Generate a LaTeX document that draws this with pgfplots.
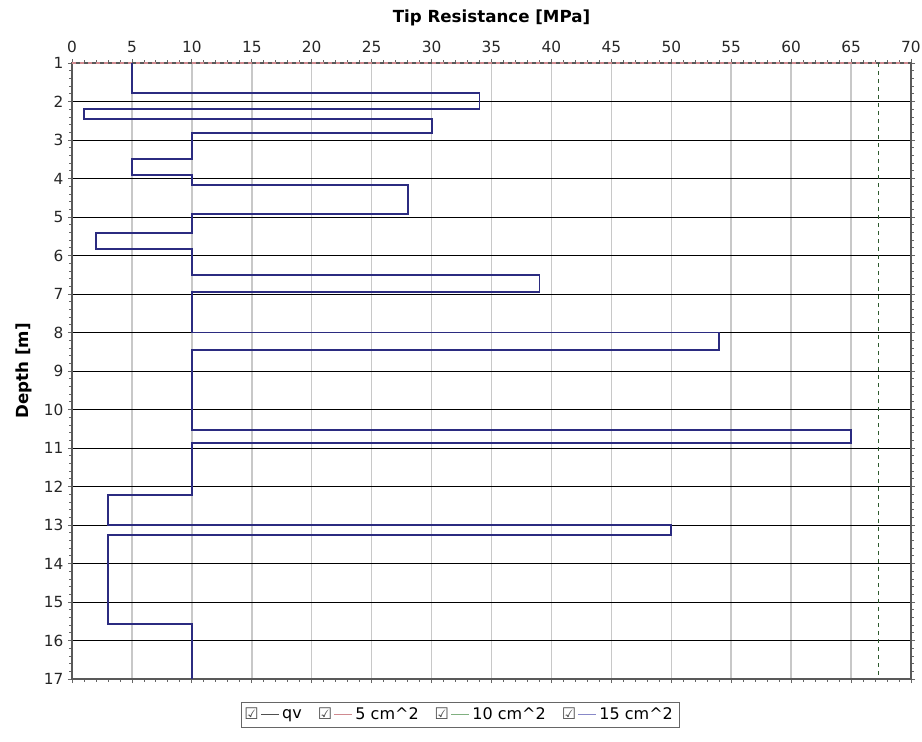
\documentclass[border=0pt]{standalone}
\usepackage{fontspec}
\setmainfont{DejaVu Sans}
\usepackage{pgfplots}
\pgfplotsset{compat=1.18}
\definecolor{navy}{HTML}{2B2B80}
\definecolor{gridgray}{HTML}{C8C8C8}
\definecolor{qvcol}{HTML}{505050}
\definecolor{c5}{HTML}{D08A90}
\definecolor{c10}{HTML}{80B080}
\definecolor{c15}{HTML}{8888C8}
\definecolor{dgreen}{HTML}{2E5A2E}
\begin{document}
\begin{tikzpicture}[x=0.75pt,y=0.75pt]
\path[use as bounding box] (-72,-63) rectangle (850,679);
\begin{axis}[
  at={(0,0)}, anchor=south west,
  scale only axis,
  width=629.25pt, height=462pt,
  xmin=0, xmax=70, ymin=1, ymax=17,
  y dir=reverse,
  xtick={0,5,...,70}, ytick={1,2,...,17},
  minor x tick num=4, minor y tick num=4,
  xticklabel pos=upper,
  tick align=outside,
  major tick length=3pt, minor tick length=2pt,
  tick style={gray!80!black, line width=0.6pt},
  xmajorgrids, ymajorgrids,
  x grid style={gridgray, line width=1.1pt},
  y grid style={black, line width=0.6pt},
  axis line style={gray!70!black, line width=0.9pt},
  /pgf/number format/assume math mode=true,
  ticklabel style={font=\fontsize{11.5}{13}\selectfont, text=black!85},
  xlabel={\textbf{Tip Resistance [MPa]}},
  ylabel={\textbf{Depth [m]}},
  label style={font=\fontsize{12.5}{14}\selectfont},
  xlabel style={yshift=5pt},
  ylabel style={yshift=2pt},
  xticklabel style={yshift=1pt},
  clip=false,
  legend columns=4,
  legend style={at={(0.4625,-0.058)}, anchor=center, draw=gray!80!black,
    font=\fontsize{12}{14}\selectfont, inner sep=2.5pt,
    /tikz/every even column/.append style={column sep=10pt}},
  legend image code/.code={
    \node[font=\fontsize{12}{13}\selectfont, inner sep=0pt, anchor=center, text=gray!60!black] at (0.0cm,0cm) {☑};
    \draw[#1, line width=0.8pt] (0.25cm,0cm) -- (0.72cm,0cm);
  },
]
\addlegendimage{qvcol}
\addlegendentry{qv}
\addlegendimage{c5}
\addlegendentry{5 cm\textasciicircum 2}
\addlegendimage{c10}
\addlegendentry{10 cm\textasciicircum 2}
\addlegendimage{c15}
\addlegendentry{15 cm\textasciicircum 2}
\addplot[c5, dashed, line width=0.8pt, forget plot] coordinates {(0,1) (70,1)};
\addplot[dgreen, dashed, line width=0.6pt, forget plot] coordinates {(67.3,1) (67.3,17)};
\addplot[navy, line width=1.4pt, forget plot] coordinates {
(5,1) (5,1.78) (34,1.78) (34,2.19) (1,2.19) (1,2.45) (30,2.45) (30,2.82)
(10,2.82) (10,3.49) (5,3.49) (5,3.91) (10,3.91) (10,4.17) (28,4.17) (28,4.92)
(10,4.92) (10,5.42) (2,5.42) (2,5.83) (10,5.83) (10,6.51) (39,6.51) (39,6.94)
(10,6.94) (10,8.0) (54,8.0) (54,8.45) (10,8.45) (10,10.53) (65,10.53) (65,10.87)
(10,10.87) (10,12.22) (3,12.22) (3,13.0) (50,13.0) (50,13.27) (3,13.27) (3,15.57)
(10,15.57) (10,17)
};
\end{axis}
\end{tikzpicture}
\end{document}
